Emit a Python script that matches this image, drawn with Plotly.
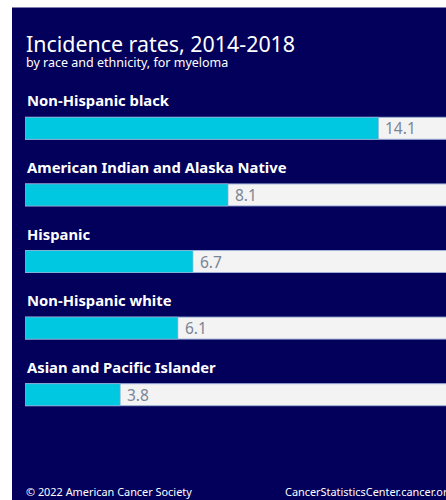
import plotly.graph_objects as go

categories = ["Non-Hispanic black", "American Indian and Alaska Native", "Hispanic",
              "Non-Hispanic white", "Asian and Pacific Islander"]
rates = [14.1, 8.1, 6.7, 6.1, 3.8]
track_max = 20
value_labels = ["14.1", "8.1", "6.7", "6.1", "3.8"]

W, H = 446, 500
ml, mr, mt, mb = 25, 0, 94.7, 71.6
pw, ph = W - ml - mr, H - mt - mb

def px_x(px):
    return (px - ml) / pw

def px_y(py):
    return (H - mb - py) / ph

NAVY = "#02005a"
CYAN = "#00c8e0"
TRACK = "#f3f3f3"
EDGE = "#9db0d8"
FONT = "Noto Sans"

fig = go.Figure()
fig.add_trace(go.Bar(y=categories, x=[track_max] * len(categories), orientation="h",
                     marker=dict(color=TRACK, line=dict(color=EDGE, width=1)),
                     width=0.33, hoverinfo="skip", showlegend=False))
fig.add_trace(go.Bar(y=categories, x=rates, orientation="h",
                     marker=dict(color=CYAN, line=dict(color=EDGE, width=0.6)),
                     width=0.33, showlegend=False))

fig.add_shape(type="rect", xref="paper", yref="paper", layer="below",
              x0=px_x(12), x1=px_x(W + 20), y0=px_y(H + 20), y1=px_y(7),
              fillcolor=NAVY, line=dict(width=0))

ann = []
ann.append(dict(text="Incidence rates, 2014-2018", xref="paper", yref="paper",
                x=px_x(23.5), y=px_y(43), xanchor="left", yanchor="middle", showarrow=False,
                font=dict(family=FONT, size=21.4, color="white")))
ann.append(dict(text="by race and ethnicity, for myeloma", xref="paper", yref="paper",
                x=px_x(24), y=px_y(62.5), xanchor="left", yanchor="middle", showarrow=False,
                font=dict(family=FONT, size=12.5, color="white")))
for c, v, t in zip(categories, rates, value_labels):
    ann.append(dict(text="<b>" + c + "</b>", xref="paper", yref="y", x=px_x(24.5), y=c,
                    yshift=28, xanchor="left", yanchor="middle", showarrow=False,
                    font=dict(family=FONT, size=14.8, color="white")))
    ann.append(dict(text=t, xref="x", yref="y", x=v, y=c, xshift=5,
                    xanchor="left", yanchor="middle", showarrow=False,
                    font=dict(family=FONT, size=15.5, color="#7b8596")))
ann.append(dict(text="© 2022 American Cancer Society", xref="paper", yref="paper",
                x=px_x(23.5), y=px_y(492), xanchor="left", yanchor="middle", showarrow=False,
                font=dict(family=FONT, size=10.9, color="white")))
ann.append(dict(text="CancerStatisticsCenter.cancer.org", xref="paper", yref="paper",
                x=px_x(282.5), y=px_y(492), xanchor="left", yanchor="middle", showarrow=False,
                font=dict(family=FONT, size=10.9, color="white")))

fig.update_layout(
    width=W, height=H, margin=dict(l=ml, r=mr, t=mt, b=mb, pad=0),
    paper_bgcolor="white", plot_bgcolor="rgba(0,0,0,0)",
    barmode="overlay", annotations=ann,
    xaxis=dict(range=[0, pw / 25.07], visible=False, fixedrange=True),
    yaxis=dict(range=[4.5, -0.5], visible=False, fixedrange=True),
)
fig.write_html("out.html", config={"displayModeBar": False},
               post_script="document.body.style.margin='0';document.body.style.overflow='hidden';")
